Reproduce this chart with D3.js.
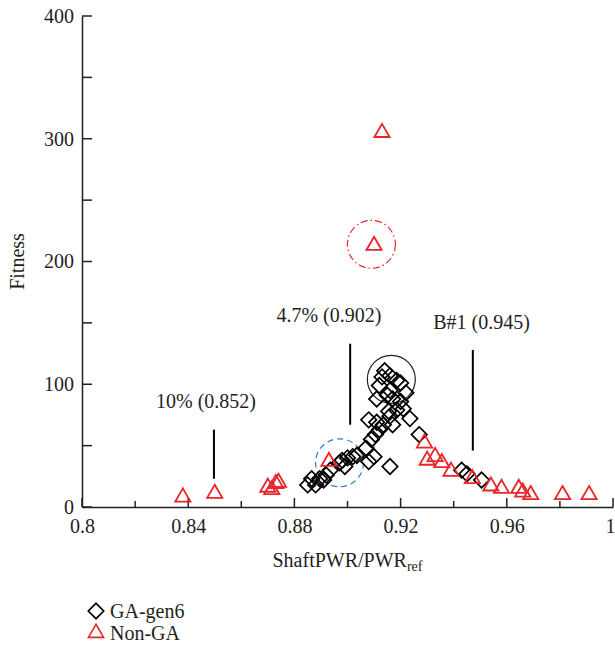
<!DOCTYPE html>
<html>
<head>
<meta charset="utf-8">
<script src="https://cdn.jsdelivr.net/npm/d3@7/dist/d3.min.js"></script>
<style>
  body { margin: 0; background: #fff; }
</style>
</head>
<body>
<div id="chart"></div>
<script>
// GA-gen6 points [ShaftPWR/PWRref, fitness]
var gaGen6 = [
  [0.914, 111], [0.916, 107], [0.9185, 103], [0.913, 106], [0.920, 101],
  [0.912, 99], [0.916, 95], [0.922, 93], [0.911, 88], [0.915, 91],
  [0.917, 88], [0.920, 86], [0.9155, 78], [0.9185, 79], [0.921, 80],
  [0.916, 74], [0.9235, 72], [0.908, 71], [0.911, 69], [0.9135, 67],
  [0.917, 67], [0.9105, 59], [0.912, 63], [0.927, 59], [0.909, 55],
  [0.907, 48], [0.910, 41], [0.908, 37], [0.9035, 42], [0.902, 41],
  [0.900, 40], [0.898, 38], [0.899, 33], [0.897, 36], [0.916, 33],
  [0.8935, 30], [0.892, 26], [0.8895, 23], [0.8865, 23], [0.885, 18],
  [0.888, 18], [0.891, 22], [0.943, 30], [0.945, 27], [0.9505, 22]
];
// Non-GA points
var nonGA = [
  [0.838, 8], [0.850, 11], [0.870, 16], [0.8715, 14], [0.873, 19],
  [0.874, 20], [0.893, 37], [0.910, 213], [0.913, 305], [0.929, 52],
  [0.930, 38], [0.933, 41], [0.9355, 36], [0.939, 29], [0.947, 23],
  [0.954, 17], [0.958, 15], [0.9645, 15], [0.966, 12], [0.969, 10],
  [0.981, 10], [0.991, 10]
];
var xTicks = [0.8, 0.84, 0.88, 0.92, 0.96, 1];
var yTicks = [0, 100, 200, 300, 400];

// annotations: label, x value, line bottom / top fitness, label position
var markers = [
  {label: "10% (0.852)", x: 0.8497, y0: 23, y1: 63, ty: 81, tx: 0.8467},
  {label: "4.7% (0.902)", x: 0.901, y0: 67, y1: 133, ty: 151, tx: 0.893},
  {label: "B#1 (0.945)", x: 0.9472, y0: 46, y1: 128, ty: 145, tx: 0.9505}
];
// highlight circles: centre x, centre fitness, style
var rings = [
  {x: 0.9165, y: 104, color: "#231f20", dash: null},
  {x: 0.8970, y: 36, color: "#2f7bc4", dash: "6,4"},
  {x: 0.9090, y: 214, color: "#e8262a", dash: "7,3,1.5,3"}
];

var font = "'Liberation Serif', 'Times New Roman', 'DejaVu Serif', serif";
var fs = 20;
var ink = "#231f20";
var width = 615, height = 648;
var svg = d3.select("#chart").append("svg")
  .attr("width", width).attr("height", height)
  .attr("font-family", font);

var x = d3.scaleLinear().domain([0.8, 1]).range([82, 613]);
var y = d3.scaleLinear().domain([0, 400]).range([507, 16]);

// axes
var xAxis = svg.append("g").attr("transform", "translate(0," + y(0) + ")")
  .call(d3.axisBottom(x).tickValues(xTicks).tickSize(0).tickPadding(12)
    .tickFormat(d3.format("")));
xAxis.attr("font-family", font).attr("font-size", fs);
xAxis.select(".domain").attr("stroke", ink).attr("stroke-width", 1.5);
xAxis.selectAll("text").attr("fill", ink)
  .attr("text-anchor", d => d === 1 ? "end" : "middle")
  .attr("dx", d => d === 1 ? 2 : 0);

var yAxis = svg.append("g").attr("transform", "translate(" + x(0.8) + ",0)")
  .call(d3.axisLeft(y).tickValues(yTicks).tickSize(0).tickPadding(8));
yAxis.attr("font-family", font).attr("font-size", fs);
yAxis.select(".domain").attr("stroke", ink).attr("stroke-width", 1.5);
yAxis.selectAll("text").attr("fill", ink);

// inside tick marks
var xt = d3.range(0.8, 1.0001, 0.02);
svg.append("g").selectAll("line").data(xt).join("line")
  .attr("x1", d => x(d)).attr("x2", d => x(d))
  .attr("y1", y(0)).attr("y2", (d, i) => y(0) - (i % 2 ? 6 : 9))
  .attr("stroke", ink).attr("stroke-width", 1.5);
var yt = d3.range(0, 401, 50);
svg.append("g").selectAll("line").data(yt).join("line")
  .attr("x1", x(0.8)).attr("x2", x(0.8) + 10)
  .attr("y1", d => y(d)).attr("y2", d => y(d))
  .attr("stroke", ink).attr("stroke-width", 1.5);

// axis titles
svg.append("text").attr("transform", "translate(24," + y(200) + ") rotate(-90)")
  .attr("text-anchor", "middle").attr("font-size", fs).attr("fill", ink)
  .text("Fitness");
var xt1 = svg.append("text").attr("x", x(0.9)).attr("y", 567)
  .attr("text-anchor", "middle").attr("font-size", fs).attr("fill", ink);
xt1.append("tspan").text("ShaftPWR/PWR");
xt1.append("tspan").attr("dy", 4).attr("font-size", 14).text("ref");

// annotation lines and labels
svg.append("g").selectAll("line").data(markers).join("line")
  .attr("x1", d => x(d.x)).attr("x2", d => x(d.x))
  .attr("y1", d => y(d.y0)).attr("y2", d => y(d.y1))
  .attr("stroke", "#000").attr("stroke-width", 2);
svg.append("g").selectAll("text").data(markers).join("text")
  .attr("x", d => x(d.tx)).attr("y", d => y(d.ty))
  .attr("text-anchor", "middle").attr("font-size", fs).attr("fill", ink)
  .text(d => d.label);

// rings
svg.append("g").selectAll("circle").data(rings).join("circle")
  .attr("cx", d => x(d.x)).attr("cy", d => y(d.y)).attr("r", 24)
  .attr("fill", "none").attr("stroke", d => d.color)
  .attr("stroke-width", 1.2).attr("stroke-dasharray", d => d.dash);

var diamond = d3.symbol().type(d3.symbolSquare).size(120);
var tri = d3.symbol().type(d3.symbolTriangle).size(100);

svg.append("g").selectAll("path").data(gaGen6).join("path")
  .attr("d", diamond)
  .attr("transform", d => "translate(" + x(d[0]) + "," + y(d[1]) + ") rotate(45)")
  .attr("fill", "none").attr("stroke", "#000").attr("stroke-width", 1.7);

svg.append("g").selectAll("path").data(nonGA).join("path")
  .attr("d", tri)
  .attr("transform", d => "translate(" + x(d[0]) + "," + y(d[1]) + ")")
  .attr("fill", "none").attr("stroke", "#e8262a").attr("stroke-width", 1.8);

// legend
var legend = [
  {name: "GA-gen6", sym: diamond, rot: 45, color: "#000"},
  {name: "Non-GA", sym: tri, rot: 0, color: "#e8262a"}
];
var lg = svg.append("g").selectAll("g").data(legend).join("g")
  .attr("transform", (d, i) => "translate(96," + (611 + i * 22) + ")");
lg.append("path").attr("d", d => d.sym())
  .attr("transform", d => "rotate(" + d.rot + ")")
  .attr("fill", "none").attr("stroke", d => d.color).attr("stroke-width", 1.6);
lg.append("text").attr("x", 14).attr("y", 7).attr("font-size", fs).attr("fill", ink)
  .text(d => d.name);
</script>
</body>
</html>
